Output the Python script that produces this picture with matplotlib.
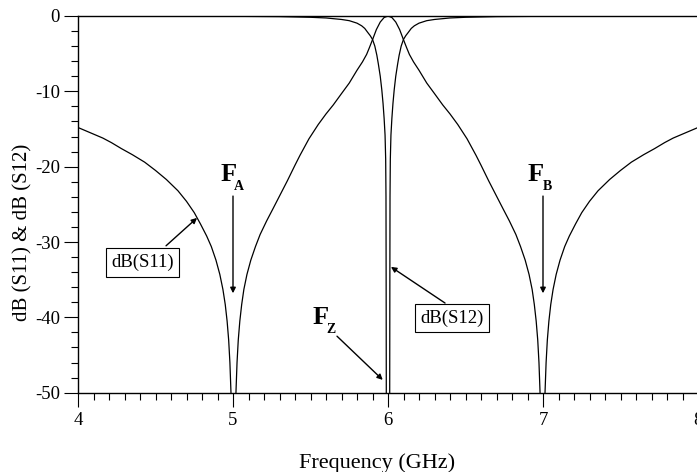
import matplotlib
matplotlib.use('Agg')
from matplotlib import pyplot as plt
from matplotlib.ticker import MultipleLocator

plt.rcParams['font.family'] = ['Liberation Serif', 'DejaVu Serif']
plt.rcParams['axes.unicode_minus'] = False

# dB(S11): reflection, nulls near 5 and 7 GHz, full reflection at 6 GHz
s11_freq = [4.00, 4.08, 4.16, 4.215, 4.28, 4.35, 4.43, 4.50, 4.57, 4.645, 4.70, 4.75, 4.79,
            4.83, 4.86, 4.89, 4.915, 4.935, 4.95, 4.962, 4.972, 4.980, 4.987, 4.994, 5.003,
            5.011, 5.019, 5.026, 5.034, 5.044, 5.056, 5.07, 5.09, 5.115, 5.145, 5.175, 5.217,
            5.26, 5.30, 5.35, 5.40, 5.432, 5.49, 5.55, 5.60, 5.647, 5.70, 5.75, 5.80, 5.835,
            5.862, 5.88, 5.901, 5.925, 5.95, 5.975, 6.00,
            6.025, 6.05, 6.075, 6.099, 6.12, 6.138, 6.165, 6.20, 6.25, 6.30, 6.353, 6.40,
            6.45, 6.51, 6.568, 6.60, 6.65, 6.70, 6.74, 6.783, 6.825, 6.855, 6.885, 6.91,
            6.93, 6.944, 6.956, 6.966, 6.974, 6.981, 6.989, 6.997,
            7.006, 7.013, 7.020, 7.028, 7.038, 7.05, 7.065, 7.085, 7.11, 7.14, 7.17, 7.21,
            7.25, 7.30, 7.355, 7.43, 7.50, 7.57, 7.65, 7.72, 7.785, 7.84, 7.92, 8.00]
s11_db = [-14.8, -15.5, -16.2, -16.8, -17.6, -18.4, -19.4, -20.5, -21.7, -23.2, -24.6, -26.1, -27.6,
          -29.2, -30.6, -32.4, -34.3, -36.3, -38.3, -40.5, -43.0, -46.0, -50.0, -56.0, -65.0,
          -56.0, -50.0, -46.0, -43.0, -40.5, -38.3, -36.3, -34.3, -32.4, -30.6, -29.0, -27.2,
          -25.5, -23.9, -21.9, -19.8, -18.5, -16.3, -14.4, -13.0, -11.8, -10.3, -8.9, -7.2, -6.1,
          -5.1, -4.2, -3.1, -1.8, -0.8, -0.2, 0.0,
          -0.2, -0.8, -1.8, -3.1, -4.2, -5.1, -6.1, -7.2, -8.9, -10.3, -11.8, -13.0,
          -14.4, -16.3, -18.5, -19.8, -21.9, -23.9, -25.5, -27.2, -29.0, -30.6, -32.4, -34.3,
          -36.3, -38.3, -40.5, -43.0, -46.0, -50.0, -56.0, -65.0,
          -56.0, -50.0, -46.0, -43.0, -40.5, -38.3, -36.3, -34.3, -32.4, -30.6, -29.2, -27.6,
          -26.1, -24.6, -23.2, -21.7, -20.5, -19.4, -18.4, -17.6, -16.8, -16.2, -15.5, -14.8]

# dB(S12): transmission, ~0 dB with a narrow zero at 6 GHz
s12_freq = [4.00, 4.50, 5.00, 5.30, 5.50, 5.60, 5.70, 5.75, 5.80, 5.83, 5.85, 5.87, 5.885,
            5.90, 5.915, 5.928, 5.938, 5.95, 5.96, 5.968, 5.975, 5.981, 5.985, 5.987, 5.988,
            5.989, 6.000,
            6.011, 6.012, 6.013, 6.015, 6.019, 6.025, 6.032, 6.04, 6.05, 6.062, 6.072, 6.085,
            6.10, 6.115, 6.13, 6.15, 6.17, 6.20, 6.25, 6.30, 6.40, 6.50, 6.70, 7.00, 7.50, 8.00]
s12_db = [-0.01, -0.02, -0.04, -0.08, -0.17, -0.26, -0.46, -0.62, -0.95, -1.3, -1.65, -2.2, -2.6,
          -3.1, -4.0, -5.2, -6.4, -8.0, -9.8, -11.6, -13.6, -15.8, -19.0, -24.0, -35.0,
          -50.0, -70.0,
          -50.0, -35.0, -24.0, -19.0, -15.8, -13.6, -11.6, -9.8, -8.0, -6.4, -5.2, -4.0,
          -3.1, -2.6, -2.2, -1.65, -1.3, -0.95, -0.62, -0.46, -0.26, -0.17, -0.08, -0.04, -0.02, -0.01]

x_ticks = [4, 5, 6, 7, 8]
y_ticks = [0, -10, -20, -30, -40, -50]

fig = plt.figure(figsize=(6.97, 4.72), dpi=100)
ax = fig.add_axes([78 / 697, 1 - 392.7 / 472, 620 / 697, (392.7 - 16) / 472])

ax.plot(s11_freq, s11_db, color='black', lw=0.9)
ax.plot(s12_freq, s12_db, color='black', lw=0.9)

ax.set_xlim(4, 8)
ax.set_ylim(-50, 0)
ax.set_xticks(x_ticks)
ax.set_yticks(y_ticks)
ax.xaxis.set_minor_locator(MultipleLocator(0.1))
ax.yaxis.set_minor_locator(MultipleLocator(2))
ax.tick_params(which='major', length=10, width=0.8, labelsize=13.5, direction='out')
ax.tick_params(which='minor', length=5, width=0.8, direction='out')
ax.tick_params(axis='x', pad=4)
ax.tick_params(axis='y', pad=3)
ax.spines['right'].set_visible(False)
for s in ['left', 'bottom', 'top']:
    ax.spines[s].set_linewidth(1.0)

fig.text(377.5 / 697, 1 - 463 / 472, 'Frequency (GHz)', ha='center', va='center', fontsize=16)
fig.text(22.5 / 697, 1 - 232.5 / 472, 'dB (S11) & dB (S12)', ha='center', va='center',
         rotation=90, fontsize=15)

arrow = dict(arrowstyle='-|>', color='black', lw=1.0, mutation_scale=8, shrinkA=0, shrinkB=0)

# F_A, F_B, F_Z labels and arrows
for fx, sx, fy, sub in [(4.974, 5.039, -21.9, 'A'), (6.955, 7.026, -21.9, 'B'), (5.568, 5.629, -40.9, 'Z')]:
    ax.text(fx, fy, 'F', fontsize=19, fontweight='bold', ha='center', va='baseline')
    ax.text(sx, fy - 1.2, sub, fontsize=10, fontweight='bold', ha='center', va='baseline')

ax.annotate('', xy=(5.0, -36.8), xytext=(5.0, -23.9), arrowprops=arrow)
ax.annotate('', xy=(7.0, -36.8), xytext=(7.0, -23.9), arrowprops=arrow)
ax.annotate('', xy=(5.966, -48.3), xytext=(5.671, -42.5), arrowprops=arrow)

box = dict(boxstyle='square,pad=0.3', fc='white', ec='black', lw=0.8)
ax.annotate('', xy=(4.768, -26.8), xytext=(4.568, -30.5), arrowprops=arrow)
ax.text(4.416, -32.7, 'dB(S11)', fontsize=13.5, ha='center', va='center', bbox=box)
ax.annotate('', xy=(6.019, -33.3), xytext=(6.368, -38.1), arrowprops=arrow)
ax.text(6.413, -40.1, 'dB(S12)', fontsize=13.5, ha='center', va='center', bbox=box)

fig.savefig('out.png', dpi=100)
